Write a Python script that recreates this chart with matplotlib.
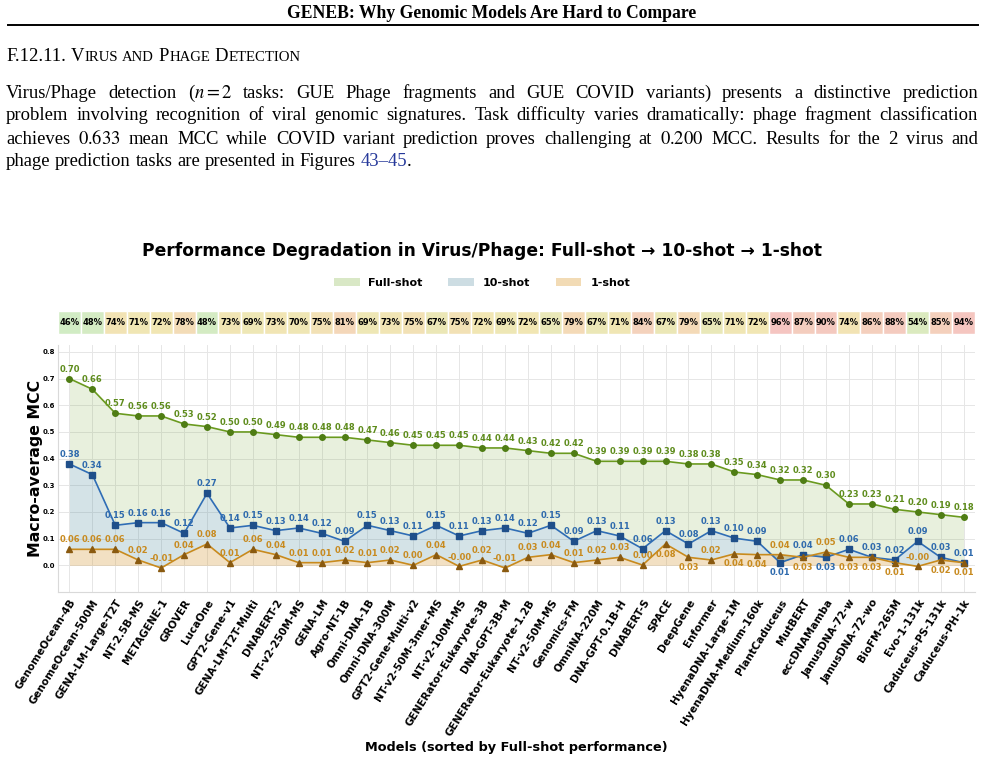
import numpy as np
import matplotlib
matplotlib.use("Agg")
import matplotlib.pyplot as plt
from matplotlib.patches import Patch, Rectangle
from matplotlib.lines import Line2D
from matplotlib.colors import LinearSegmentedColormap, Normalize

# ---- data ----
models = ["GenomeOcean-4B", "GenomeOcean-500M", "GENA-LM-Large-T2T", "NT-2.5B-MS",
          "METAGENE-1", "GROVER", "LucaOne", "GPT2-Gene-v1", "GENA-LM-T2T-Multi",
          "DNABERT-2", "NT-v2-250M-MS", "GENA-LM", "Agro-NT-1B", "Omni-DNA-1B",
          "Omni-DNA-300M", "GPT2-Gene-Multi-v2", "NT-v2-50M-3mer-MS", "NT-v2-100M-MS",
          "GENERator-Eukaryote-3B", "DNA-GPT-3B-M", "GENERator-Eukaryote-1.2B",
          "NT-v2-50M-MS", "Genomics-FM", "OmniNA-220M", "DNA-GPT-0.1B-H", "DNABERT-S",
          "SPACE", "DeepGene", "Enformer", "HyenaDNA-Large-1M", "HyenaDNA-Medium-160k",
          "PlantCaduceus", "MutBERT", "eccDNAMamba", "JanusDNA-72-w", "JanusDNA-72-wo",
          "BioFM-265M", "Evo-1-131k", "Caduceus-PS-131k", "Caduceus-PH-1k"]

full_shot = [0.70, 0.66, 0.57, 0.56, 0.56, 0.53, 0.52, 0.50, 0.50, 0.49,
             0.48, 0.48, 0.48, 0.47, 0.46, 0.45, 0.45, 0.45, 0.44, 0.44,
             0.43, 0.42, 0.42, 0.39, 0.39, 0.39, 0.39, 0.38, 0.38, 0.35,
             0.34, 0.32, 0.32, 0.30, 0.23, 0.23, 0.21, 0.20, 0.19, 0.18]

ten_shot = [0.38, 0.34, 0.15, 0.16, 0.16, 0.12, 0.27, 0.14, 0.15, 0.13,
            0.14, 0.12, 0.09, 0.15, 0.13, 0.11, 0.15, 0.11, 0.13, 0.14,
            0.12, 0.15, 0.09, 0.13, 0.11, 0.062, 0.13, 0.08, 0.13, 0.102,
            0.09, 0.01, 0.04, 0.03, 0.06, 0.03, 0.02, 0.09, 0.03, 0.01]

one_shot = [0.06, 0.06, 0.06, 0.02, -0.01, 0.04, 0.08, 0.01, 0.06, 0.04,
            0.01, 0.01, 0.02, 0.01, 0.02, 0.00, 0.04, -0.004, 0.02, -0.01,
            0.03, 0.04, 0.01, 0.02, 0.03, 0.001, 0.08, 0.03, 0.02, 0.043,
            0.04, 0.04, 0.03, 0.05, 0.03, 0.03, 0.01, -0.004, 0.02, 0.01]

degradation = [46, 48, 74, 71, 72, 78, 48, 73, 69, 73, 70, 75, 81, 69, 73, 75, 67, 75, 72, 69,
               72, 65, 79, 67, 71, 84, 67, 79, 65, 71, 72, 96, 87, 90, 74, 86, 88, 54, 85, 94]

para_lines = [
    "Virus/Phage detection ($n=2$ tasks: GUE Phage fragments and GUE COVID variants) presents a distinctive prediction",
    "problem involving recognition of viral genomic signatures. Task difficulty varies dramatically: phage fragment classification",
    "achieves $0.633$ mean MCC while COVID variant prediction proves challenging at $0.200$ MCC. Results for the 2 virus and",
    "phage prediction tasks are presented in Figures 43–45.",
]

W, H = 985, 764
SERIF = "Liberation Serif"
plt.rcParams["mathtext.fontset"] = "stix"

fig = plt.figure(figsize=(W / 100, H / 100), dpi=100)
rend = fig.canvas.get_renderer()


def text_line(words, y, x0, x1=None, size=13.4):
    # words: list of runs [(text, kwargs), ...]; spreads words between x0 and x1
    objs, widths = [], []
    for w in words:
        parts, ww = [], 0
        for s, kw in w:
            kw = dict(kw)
            t = fig.text(0, 1 - y / H, s, fontsize=kw.pop("size", size), family=SERIF,
                         va="baseline", ha="left", **kw)
            parts.append((t, ww))
            ww += t.get_window_extent(rend).width
        objs.append(parts)
        widths.append(ww)
    if x1 is None or len(words) < 2:
        gap = size * 1.389 * 0.25
    else:
        gap = (x1 - x0 - sum(widths)) / (len(words) - 1)
    x = x0
    for parts, ww in zip(objs, widths):
        for t, off in parts:
            t.set_x((x + off) / W)
        x += ww + gap


# ---- page header ----
fig.text(492 / W, 1 - 18 / H, "GENEB: Why Genomic Models Are Hard to Compare", family=SERIF,
         fontweight="bold", fontsize=12.7, ha="center", va="baseline")
fig.add_artist(Line2D([8 / W, 978 / W], [1 - 25 / H, 1 - 25 / H], color="black", lw=1.4))


def small_caps(word, big=13.4, small=10.6):
    return [(word[0], {"size": big}), (word[1:].upper(), {"size": small})]


heading = [[("F.12.11.", {})], small_caps("Virus"), [("AND", {"size": 10.6})],
           small_caps("Phage"), small_caps("Detection")]
text_line(heading, 61, 6)

for k, ln in enumerate(para_lines):
    words = []
    for w in ln.split(" "):
        if w == "43–45.":
            words.append([("43–45", {"color": "#26399a"}), (".", {})])
        else:
            words.append([(w, {})])
    last = k == len(para_lines) - 1
    text_line(words, 97.5 + 23 * k, 6, None if last else 978)

# ---- chart ----
x = np.arange(len(models))
full = np.array(full_shot)
ten = np.array(ten_shot)
one = np.array(one_shot)

ax = fig.add_axes([58 / W, 1 - 592 / H, 917 / W, 247 / H])
ax.fill_between(x, ten, full, color="#7aa83a", alpha=0.17, lw=0)
ax.fill_between(x, one, ten, color="#4e8c9c", alpha=0.24, lw=0)
ax.fill_between(x, 0, one, color="#d49a3a", alpha=0.3, lw=0)

ax.plot(x, full, "-o", color="#6a9a1f", lw=1.2, ms=4, mfc="#4f7d14", mec="#4f7d14", zorder=4)
ax.plot(x, ten, "-s", color="#2f6db5", lw=1.2, ms=4, mfc="#1f4f8a", mec="#1f4f8a", zorder=4)
ax.plot(x, one, "-^", color="#c98a1c", lw=1.2, ms=4, mfc="#8a5a10", mec="#8a5a10", zorder=4)

lbl = dict(ha="center", fontsize=6, fontweight="bold", textcoords="offset points")
for i in range(len(x)):
    ax.annotate(f"{full[i]:.2f}", (i, full[i]), xytext=(0, 3.5), va="bottom",
                color="#5e8c1c", **lbl)
    close = abs(ten[i] - one[i]) < 0.06
    ten_below = close and ten[i] < one[i]
    one_below = close and one[i] <= ten[i]
    ax.annotate(f"{ten[i]:.2f}", (i, ten[i]), xytext=(0, -4 if ten_below else 3.5),
                va="top" if ten_below else "bottom", color="#2e6aad", **lbl)
    ax.annotate(f"{one[i]:.2f}", (i, one[i]), xytext=(0, -4 if one_below else 3.5),
                va="top" if one_below else "bottom", color="#c88a1e", **lbl)

ax.set_xlim(-0.5, len(x) - 0.5)
ax.set_ylim(-0.1, 0.826)
ax.set_yticks(np.arange(0, 0.81, 0.1))
ax.set_yticklabels([f"{v:.1f}" for v in np.arange(0, 0.81, 0.1)], fontsize=5, fontweight="bold")
ax.set_xticks(x)
ax.set_xticklabels(models, rotation=58, ha="right", rotation_mode="anchor",
                   fontsize=7.5, fontweight="bold")
ax.tick_params(axis="x", length=0, pad=4)
ax.tick_params(axis="y", length=0, pad=2)
ax.grid(True, color="#e6e6e6", lw=0.7)
ax.set_axisbelow(True)
for s in ["top", "right"]:
    ax.spines[s].set_visible(False)
for s in ["left", "bottom"]:
    ax.spines[s].set_color("#d9d9d9")
ax.set_ylabel("Macro-average MCC", fontsize=11.3, fontweight="bold")
ax.yaxis.set_label_coords(-0.0164, 0.5)

# degradation strip above the axes
cmap = LinearSegmentedColormap.from_list(
    "deg", [(0.0, "#d0ecc5"), (0.29, "#e3e9bb"), (0.52, "#f1e6b3"),
            (0.67, "#f4d9b8"), (0.83, "#f4cbbf"), (1.0, "#f5c4c1")])
norm = Normalize(45, 97)
axp = fig.add_axes([58 / W, 1 - 334 / H, 917 / W, 23 / H])
axp.set_xlim(-0.5, len(x) - 0.5)
axp.set_ylim(0, 1)
axp.axis("off")
for i, d in enumerate(degradation):
    axp.add_patch(Rectangle((i - 0.5, 0), 1, 1, facecolor=cmap(norm(d)), edgecolor="white", lw=1))
    axp.text(i, 0.5, f"{d}%", ha="center", va="center", fontsize=6, fontweight="bold")

fig.text(482 / W, 1 - 251 / H,
         "Performance Degradation in Virus/Phage: Full-shot \u2192 10-shot \u2192 1-shot",
         ha="center", va="center", fontsize=12.3, fontweight="bold")

handles = [Patch(facecolor="#d9e8c6", label="Full-shot"),
           Patch(facecolor="#cddde3", label="10-shot"),
           Patch(facecolor="#f2dbb5", label="1-shot")]
fig.legend(handles=handles, loc="center", bbox_to_anchor=(482 / W, 1 - 283 / H), ncol=3,
           frameon=False, prop={"weight": "bold", "size": 8}, handlelength=2.3,
           handleheight=0.7, columnspacing=2.3, handletextpad=0.8)

fig.text(516.5 / W, 1 - 748 / H, "Models (sorted by Full-shot performance)",
         ha="center", va="center", fontsize=9.3, fontweight="bold")

fig.savefig("out.png", dpi=100)
